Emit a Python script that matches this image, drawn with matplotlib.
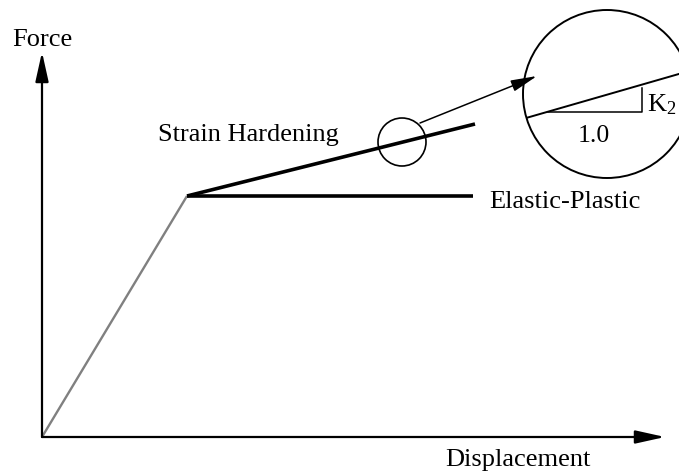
import matplotlib
matplotlib.use("Agg")
import matplotlib.pyplot as plt
from matplotlib.patches import Circle

plt.rcParams['font.family'] = ['Liberation Serif', 'DejaVu Serif']
plt.rcParams['mathtext.fontset'] = 'custom'
plt.rcParams['mathtext.rm'] = 'Liberation Serif'
plt.rcParams['mathtext.it'] = 'Liberation Serif:italic'

# Schematic force-displacement data (pixel-space diagram units)
origin = (42, 437)
yield_pt = (187, 196)
elastic_plastic_end = (473, 196)
hardening_end = (475, 124)
x_axis_end = (665, 437)
y_axis_end = (42, 52)

zoom_small_center = (402, 142)
zoom_small_r = 24
zoom_big_center = (607, 94)
zoom_big_r = 84
zoom_arrow_start = (420, 123)
zoom_arrow_end = (537, 76)

detail_line = ([525, 700], [118.3, 118.3 - 0.288 * 175])
tri_x = [548, 641.7, 641.7]
tri_y = [112.3, 112.3, 87.5]

labels = {
    'Force': (12, 46, 'left'),
    'Displacement': (518, 466, 'center'),
    'Strain Hardening': (158, 141, 'left'),
    'Elastic-Plastic': (489, 208, 'left'),
    '1.0': (594, 141.5, 'center'),
}

fig = plt.figure(figsize=(6.79, 4.72), dpi=100)
ax = fig.add_axes([0, 0, 1, 1])
ax.set_xlim(0, 679)
ax.set_ylim(472, 0)
ax.axis('off')

# axes arrows
ax.annotate('', xy=x_axis_end, xytext=origin,
            arrowprops=dict(arrowstyle='-|>,head_length=1.8,head_width=0.4',
                            lw=1.6, color='black', shrinkA=0, shrinkB=0))
ax.annotate('', xy=y_axis_end, xytext=origin,
            arrowprops=dict(arrowstyle='-|>,head_length=1.8,head_width=0.4',
                            lw=1.6, color='black', shrinkA=0, shrinkB=0))

# elastic branch
ax.plot([origin[0], yield_pt[0]], [origin[1], yield_pt[1]], color='#808080', lw=1.7,
        solid_capstyle='butt')
# plastic branches
ax.plot([yield_pt[0], elastic_plastic_end[0]], [yield_pt[1], elastic_plastic_end[1]],
        color='black', lw=2.6, solid_capstyle='butt')
ax.plot([yield_pt[0], hardening_end[0]], [yield_pt[1], hardening_end[1]],
        color='black', lw=2.6, solid_capstyle='butt')

# zoom circles
ax.add_patch(Circle(zoom_small_center, zoom_small_r, fill=False, lw=1.2, color='black'))
big = Circle(zoom_big_center, zoom_big_r, fill=False, lw=1.4, color='black')
ax.add_patch(big)

ax.annotate('', xy=zoom_arrow_end, xytext=zoom_arrow_start,
            arrowprops=dict(arrowstyle='-|>,head_length=1.6,head_width=0.35',
                            lw=1.1, color='black', shrinkA=0, shrinkB=0))

# detail line inside big circle
ln, = ax.plot(detail_line[0], detail_line[1], color='black', lw=1.4)
clip = Circle(zoom_big_center, zoom_big_r, transform=ax.transData)
ln.set_clip_path(clip)
ax.plot(tri_x, tri_y, color='black', lw=1.1)

for txt, (x, y, ha) in labels.items():
    ax.text(x, y, txt, fontsize=19 if txt != '1.0' else 18.5, ha=ha, va='baseline')
ax.text(647, 111.7, r'K$_\mathrm{2}$', fontsize=19, ha='left', va='baseline')

fig.savefig('out.png', dpi=100)
